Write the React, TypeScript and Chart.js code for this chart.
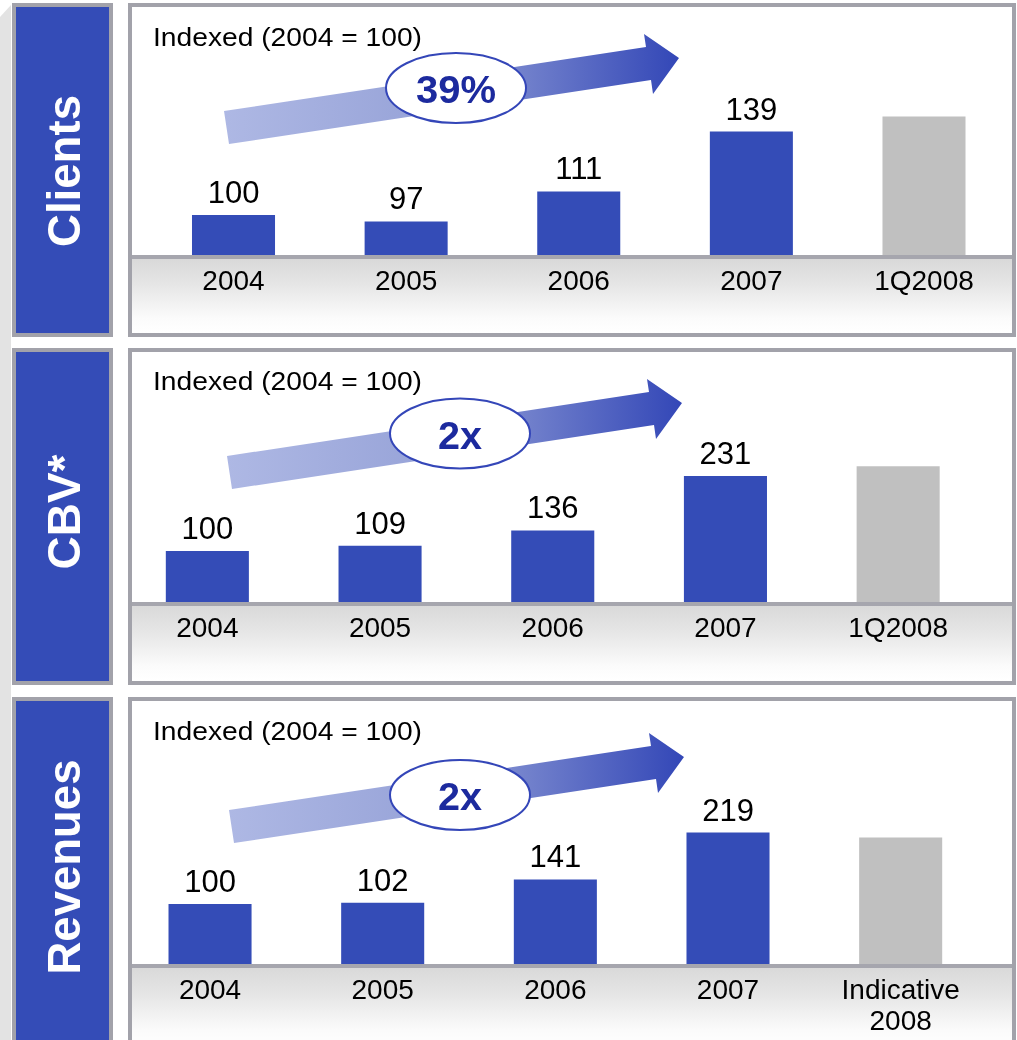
import React, { useEffect, useRef } from 'react';
import { Chart, registerables } from 'chart.js';

Chart.register(...registerables);

const FONT = '"Liberation Sans", Arial, Helvetica, sans-serif';
const BLUE = '#344cb7';
const GREY_BAR = '#c0c0c0';
const BORDER = '#a2a2aa';

// ---- data ----
const clientsCategories = ['2004', '2005', '2006', '2007', '1Q2008'];
const clientsValues = [100, 97, 111, 139, 146];
const cbvCategories = ['2004', '2005', '2006', '2007', '1Q2008'];
const cbvValues = [100, 109, 136, 231, 248];
const revenueCategories: (string | string[])[] = ['2004', '2005', '2006', '2007', ['Indicative', '2008']];
const revenueValues = [100, 102, 141, 219, 211];
const actualFlags = [true, true, true, true, false];
const panelTitles = ['Clients', 'CBV*', 'Revenues'];
const growthLabels = ['39%', '2x', '2x'];
const indexNote = 'Indexed (2004 = 100)';

type PanelCfg = {
  id: string;
  title: string;
  titleCy: number;
  titleLen: number;
  categories: (string | string[])[];
  values: number[];
  growth: string;
  growthLen: number;
  top: number;
  bottom: number;
  baseline: number;
  chartTop: number;
  chartLeft: number;
  chartRight: number;
  yMin: number;
  pxPerUnit: number;
  arrowDx: number;
  arrowDy: number;
  ellCx: number;
  ellCy: number;
  noteBaseline: number;
};

const CANVAS_LEFT = 100;
const CANVAS_RIGHT = 1012;

const panels: PanelCfg[] = [
  {
    id: 'p1', title: panelTitles[0], titleCy: 171, titleLen: 152,
    categories: clientsCategories, values: clientsValues, growth: growthLabels[0], growthLen: 80,
    top: 3, bottom: 337, baseline: 255, chartTop: 23, chartLeft: 147.2, chartRight: 1010.3,
    yMin: 81.3, pxPerUnit: 2.14, arrowDx: -3, arrowDy: -345, ellCx: 456, ellCy: 88, noteBaseline: 46,
  },
  {
    id: 'p2', title: panelTitles[1], titleCy: 512, titleLen: 115,
    categories: cbvCategories, values: cbvValues, growth: growthLabels[1], growthLen: 44,
    top: 348, bottom: 685, baseline: 602, chartTop: 368, chartLeft: 121, chartRight: 984.5,
    yMin: 10.9, pxPerUnit: 0.5725, arrowDx: 0, arrowDy: 0, ellCx: 460, ellCy: 433.5, noteBaseline: 390,
  },
  {
    id: 'p3', title: panelTitles[2], titleCy: 867, titleLen: 215,
    categories: revenueCategories, values: revenueValues, growth: growthLabels[2], growthLen: 44,
    top: 697, bottom: 1050, baseline: 964, chartTop: 717, chartLeft: 123.7, chartRight: 987,
    yMin: 0, pxPerUnit: 0.6, arrowDx: 2, arrowDy: 354, ellCx: 460, ellCy: 795, noteBaseline: 740,
  },
];

// arrow outline (reference shape, shifted per panel)
const arrowShape: [number, number][] = [
  [227, 456], [649, 392], [647, 379], [682, 403], [656, 439], [654, 425], [232, 489],
];

const valueLabelPlugin = {
  id: 'valueLabels',
  afterDatasetsDraw(chart: any) {
    const { ctx } = chart;
    const meta = chart.getDatasetMeta(0);
    const data = chart.data.datasets[0].data as number[];
    ctx.save();
    ctx.font = `31px ${FONT}`;
    ctx.fillStyle = '#000';
    ctx.textAlign = 'center';
    ctx.textBaseline = 'alphabetic';
    meta.data.forEach((bar: any, i: number) => {
      if (!actualFlags[i]) return;
      ctx.fillText(String(data[i]), bar.x, bar.y - 12);
    });
    ctx.restore();
  },
};

function Panel({ cfg }: { cfg: PanelCfg }) {
  const ref = useRef<HTMLCanvasElement | null>(null);
  const canvasTop = cfg.top + 4;
  const canvasH = cfg.bottom - 4 - canvasTop;
  const canvasW = CANVAS_RIGHT - CANVAS_LEFT;

  useEffect(() => {
    if (!ref.current) return;
    const axisH = cfg.bottom - 4 - cfg.baseline;
    const yMax = cfg.yMin + (cfg.baseline - cfg.chartTop) / cfg.pxPerUnit;
    const chart = new Chart(ref.current, {
      type: 'bar',
      data: {
        labels: cfg.categories as any,
        datasets: [
          {
            data: cfg.values,
            backgroundColor: cfg.values.map((_, i) => (actualFlags[i] ? BLUE : GREY_BAR)),
            borderWidth: 0,
            barPercentage: 0.481,
            categoryPercentage: 1,
          },
        ],
      },
      options: {
        animation: false,
        responsive: false,
        maintainAspectRatio: false,
        events: [],
        layout: {
          padding: {
            left: cfg.chartLeft - CANVAS_LEFT,
            right: CANVAS_RIGHT - cfg.chartRight,
            top: cfg.chartTop - canvasTop,
            bottom: 0,
          },
        },
        plugins: {
          legend: { display: false },
          tooltip: { enabled: false },
          title: { display: false },
        },
        scales: {
          x: {
            grid: { display: false, drawTicks: false },
            border: { display: false },
            ticks: {
              color: '#000',
              font: { size: 28, family: FONT, lineHeight: 1.1 },
              padding: 12,
              maxRotation: 0,
              autoSkip: false,
            },
            afterFit: (scale: any) => {
              scale.height = axisH;
            },
          },
          y: { display: false, min: cfg.yMin, max: yMax },
        },
      },
      plugins: [valueLabelPlugin],
    });
    return () => chart.destroy();
  }, [cfg]);

  const pts = arrowShape.map(([x, y]) => `${x + cfg.arrowDx},${y + cfg.arrowDy}`).join(' ');
  const gx1 = 227 + cfg.arrowDx;
  const gx2 = 682 + cfg.arrowDx;

  return (
    <>
      <div
        style={{
          position: 'absolute', left: 12, top: cfg.top, width: 101, height: cfg.bottom - cfg.top,
          boxSizing: 'border-box', border: `4px solid ${BORDER}`, background: BLUE,
        }}
      />
      <div
        style={{
          position: 'absolute', left: 128, top: cfg.top, width: 888, height: cfg.bottom - cfg.top,
          boxSizing: 'border-box', border: `4px solid ${BORDER}`, background: '#fff',
        }}
      />
      <div
        style={{
          position: 'absolute', left: 132, top: cfg.baseline + 4, width: 880,
          height: cfg.bottom - 4 - (cfg.baseline + 4),
          background: 'linear-gradient(to bottom, #d9d9d9 0%, #e6e6e6 35%, #fbfbfb 80%, #ffffff 100%)',
        }}
      />
      <div
        style={{
          position: 'absolute', left: 132, top: cfg.baseline, width: 880, height: 4, background: '#a6a6ae',
        }}
      />
      <canvas
        ref={ref}
        width={canvasW}
        height={canvasH}
        style={{ position: 'absolute', left: CANVAS_LEFT, top: canvasTop, width: canvasW, height: canvasH }}
      />
      <svg
        width={1017}
        height={1040}
        style={{ position: 'absolute', left: 0, top: 0, pointerEvents: 'none' }}
      >
        <defs>
          <linearGradient id={`grad-${cfg.id}`} gradientUnits="userSpaceOnUse" x1={gx1} y1={0} x2={gx2} y2={0}>
            <stop offset="0" stopColor="#aeb8e4" />
            <stop offset="0.45" stopColor="#97a3d8" />
            <stop offset="1" stopColor="#3347b7" />
          </linearGradient>
        </defs>
        <text
          x={80}
          y={cfg.titleCy}
          transform={`rotate(-90 80 ${cfg.titleCy})`}
          textAnchor="middle"
          fill="#ffffff"
          fontFamily={FONT}
          fontWeight="bold"
          fontSize={46}
          textLength={cfg.titleLen}
          lengthAdjust="spacingAndGlyphs"
        >
          {cfg.title}
        </text>
        <text
          x={153}
          y={cfg.noteBaseline}
          fill="#000"
          fontFamily={FONT}
          fontSize={25}
          textLength={269}
          lengthAdjust="spacingAndGlyphs"
        >
          {indexNote}
        </text>
        <polygon points={pts} fill={`url(#grad-${cfg.id})`} />
        <ellipse cx={cfg.ellCx} cy={cfg.ellCy} rx={70} ry={35} fill="#fff" stroke="#3446b8" strokeWidth={2} />
        <text
          x={cfg.ellCx}
          y={cfg.ellCy + 15}
          textAnchor="middle"
          fill="#1c2a9e"
          fontFamily={FONT}
          fontWeight="bold"
          fontSize={38}
          textLength={cfg.growthLen}
          lengthAdjust="spacingAndGlyphs"
        >
          {cfg.growth}
        </text>
      </svg>
    </>
  );
}

export default function App() {
  return (
    <div
      style={{
        position: 'absolute', left: 0, top: 0, width: 1017, height: 1040, overflow: 'hidden',
        background: '#ffffff', fontFamily: FONT,
      }}
    >
      <svg width={12} height={1040} style={{ position: 'absolute', left: 0, top: 0 }}>
        <polygon points="0,17 11,5 11,1040 0,1040" fill="#e3e3e3" />
      </svg>
      {panels.map((p) => (
        <Panel key={p.id} cfg={p} />
      ))}
    </div>
  );
}
